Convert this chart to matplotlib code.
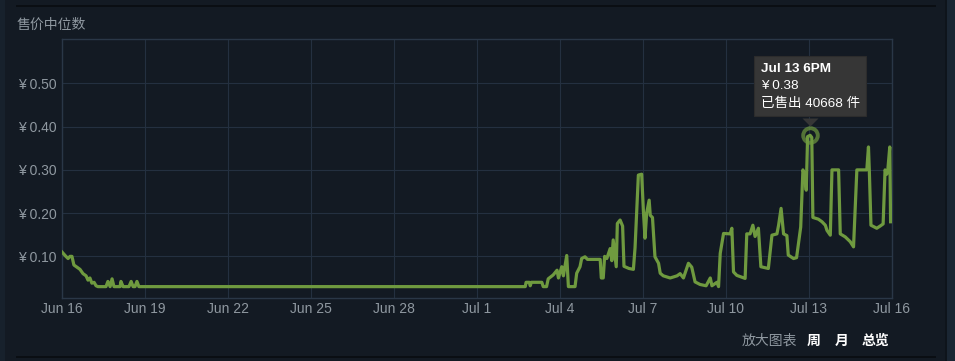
"""Steam market median sale price chart (售价中位数), Jun 16 - Jul 16."""
import matplotlib
matplotlib.use("Agg")
import matplotlib.pyplot as plt
import matplotlib.patches as mpatches
import matplotlib.transforms as mtransforms
from matplotlib.offsetbox import TextArea, VPacker, AnnotationBbox

plt.rcParams["font.family"] = ["Liberation Sans", "Noto Sans CJK SC", "DejaVu Sans"]

# days since Jun 16 00:00, median price in yuan
days = [
    0.00, 0.07, 0.14, 0.22, 0.29, 0.36, 0.43, 0.54, 0.65, 0.76, 0.87, 0.94,
    1.01, 1.08, 1.16, 1.23, 1.30, 1.59, 1.66, 1.74, 1.81, 1.88, 2.10, 2.13,
    2.21, 2.42, 2.50, 2.57, 2.64, 2.71, 2.78,
    16.75, 16.78, 16.90, 16.93, 16.97, 17.35, 17.40, 17.52, 17.58, 17.76,
    17.90, 17.95, 18.07, 18.13, 18.25, 18.31, 18.55, 18.61, 18.73, 18.79,
    18.91, 19.00, 19.46, 19.50, 19.57, 19.62, 19.70, 19.82, 19.88, 19.93,
    20.04, 20.08, 20.18, 20.27, 20.32, 20.50, 20.66, 20.72, 20.84, 20.96,
    21.02, 21.08, 21.14, 21.23, 21.27, 21.35, 21.44,
    21.57, 21.63, 21.74, 21.99, 22.24, 22.35, 22.47, 22.65, 22.77, 22.89,
    23.07, 23.29, 23.44, 23.50, 23.68, 23.74, 23.80, 23.92, 24.16, 24.22,
    24.28, 24.40, 24.70, 24.76, 24.88, 24.98, 25.06, 25.18, 25.27, 25.54,
    25.67, 25.85, 25.91, 26.00, 26.09, 26.21, 26.26, 26.45, 26.56, 26.71,
    26.79, 26.85, 26.91, 26.96, 27.05, 27.11, 27.15, 27.35, 27.48, 27.60,
    27.66, 27.78, 27.84, 28.08, 28.14, 28.32, 28.50, 28.62, 28.74, 29.10,
    29.16, 29.19, 29.25, 29.46, 29.58, 29.69, 29.76, 29.82, 29.86, 29.93,
    29.96,
]
prices = [
    0.110, 0.105, 0.100, 0.095, 0.100, 0.100, 0.080, 0.075, 0.070, 0.060, 0.055, 0.045,
    0.050, 0.038, 0.040, 0.032, 0.030, 0.030, 0.042, 0.030, 0.048, 0.030, 0.030, 0.042,
    0.030, 0.030, 0.042, 0.030, 0.030, 0.042, 0.030,
    0.030, 0.040, 0.040, 0.032, 0.040, 0.040, 0.030, 0.030, 0.048, 0.057,
    0.068, 0.050, 0.076, 0.055, 0.102, 0.030, 0.030, 0.061, 0.076, 0.095,
    0.099, 0.093, 0.093, 0.050, 0.050, 0.100, 0.095, 0.118, 0.090, 0.138,
    0.076, 0.176, 0.184, 0.170, 0.077, 0.072, 0.070, 0.120, 0.288, 0.290,
    0.207, 0.142, 0.200, 0.230, 0.195, 0.190, 0.099,
    0.084, 0.061, 0.055, 0.050, 0.055, 0.060, 0.050, 0.084, 0.075, 0.041,
    0.035, 0.032, 0.050, 0.032, 0.040, 0.030, 0.107, 0.153, 0.152, 0.165,
    0.064, 0.056, 0.049, 0.152, 0.152, 0.172, 0.146, 0.165, 0.076, 0.072,
    0.149, 0.152, 0.172, 0.211, 0.152, 0.148, 0.103, 0.095, 0.097, 0.168,
    0.300, 0.290, 0.253, 0.377, 0.380, 0.375, 0.190, 0.186, 0.180, 0.172,
    0.160, 0.149, 0.300, 0.300, 0.152, 0.145, 0.134, 0.122, 0.300, 0.300,
    0.353, 0.300, 0.172, 0.165, 0.170, 0.175, 0.300, 0.290, 0.300, 0.353,
    0.180,
]

tick_days = [0, 3, 6, 9, 12, 15, 18, 21, 24, 27, 30]
tick_labels = ["Jun 16", "Jun 19", "Jun 22", "Jun 25", "Jun 28", "Jul 1",
               "Jul 4", "Jul 7", "Jul 10", "Jul 13", "Jul 16"]
price_ticks = [0.10, 0.20, 0.30, 0.40, 0.50]

tip_time = "Jul 13 6PM"
tip_sold = 40668

BG = "#131a23"
GRID = "#243040"
TXT = "#8f98a0"
LINE = "#6f9a3f"
TIP = "#363636"

fig = plt.figure(figsize=(9.55, 3.61), dpi=100, facecolor=BG)
ax = fig.add_axes([62 / 955, 1 - 298.3 / 361, (891.7 - 62) / 955, (298.3 - 39.3) / 361])
ax.set_facecolor(BG)

ax.plot(days, prices, "-", color=LINE, linewidth=2.3, solid_joinstyle="round", zorder=3)

ax.set_xlim(0, 30)
ax.set_ylim(0.003, 0.602)
ax.set_xticks(tick_days)
ax.set_xticklabels(tick_labels)
ax.set_yticks(price_ticks)
ax.set_yticklabels([f"¥ {v:.2f}" for v in price_ticks])
ax.tick_params(length=0, colors=TXT, labelsize=10)
ax.tick_params(axis="y", pad=4)
ax.tick_params(axis="x", pad=3)
ax.grid(True, color=GRID, linewidth=0.8)
for s in ax.spines.values():
    s.set_color("#2a3747")
    s.set_linewidth(1.0)

# hovered point + tooltip
i = prices.index(max(prices))
px, py = days[i], prices[i]
ax.plot(px, py, "o", ms=10.5, mfc="none", mec=LINE, mew=2.8, alpha=0.7, zorder=4)

tri = mtransforms.offset_copy(ax.transData, fig=fig, x=0, y=12.4, units="points")
ax.plot(px, py, marker=[(-1, 0), (1, 0), (0, -1)], ms=11.5, color=TIP,
        mec="none", transform=tri, zorder=5, clip_on=False)

tprops = dict(color="white", fontsize=9.7)
box = VPacker(children=[
    TextArea(tip_time, textprops=dict(tprops, fontweight="bold")),
    TextArea(f"¥ {py:.2f}", textprops=tprops),
    TextArea(f"已售出 {tip_sold} 件", textprops=tprops),
], align="left", pad=0, sep=4)
ab = AnnotationBbox(box, (px, py), xybox=(0, 18.2), xycoords="data",
                    boxcoords="offset points", box_alignment=(0.5, 0),
                    frameon=True, pad=0.45, zorder=6,
                    bboxprops=dict(fc=TIP, ec="#2c2c2c", lw=0.8))
ax.add_artist(ab)

# panel decoration
fig.text(17 / 955, 1 - 25 / 361, "售价中位数", color=TXT, fontsize=10, va="center", ha="left")
fig.text(742 / 955, 1 - 341 / 361, "放大图表", color=TXT, fontsize=10, va="center", ha="left")
fig.text(807 / 955, 1 - 341 / 361, "周", color="white", fontsize=10, fontweight="bold", va="center", ha="left")
fig.text(835 / 955, 1 - 341 / 361, "月", color="white", fontsize=10, fontweight="bold", va="center", ha="left")
fig.text(862 / 955, 1 - 341 / 361, "总览", color="white", fontsize=10, fontweight="bold", va="center", ha="left")

for y in (6, 357):
    fig.patches.append(mpatches.Rectangle((16 / 955, 1 - (y + 1) / 361), (936 - 16) / 955, 2 / 361,
                                          transform=fig.transFigure, fc="#0a0e13", ec="none"))
fig.patches.append(mpatches.Rectangle((0, 0), 5 / 955, 1, transform=fig.transFigure,
                                      fc="#17212c", ec="none"))
fig.patches.append(mpatches.Rectangle((945 / 955, 0), 2 / 955, 1, transform=fig.transFigure,
                                      fc="#0e141b", ec="none"))
fig.patches.append(mpatches.Rectangle((947 / 955, 0), 8 / 955, 1, transform=fig.transFigure,
                                      fc="#1a2633", ec="none"))

fig.savefig("out.png", dpi=100, facecolor=BG)
